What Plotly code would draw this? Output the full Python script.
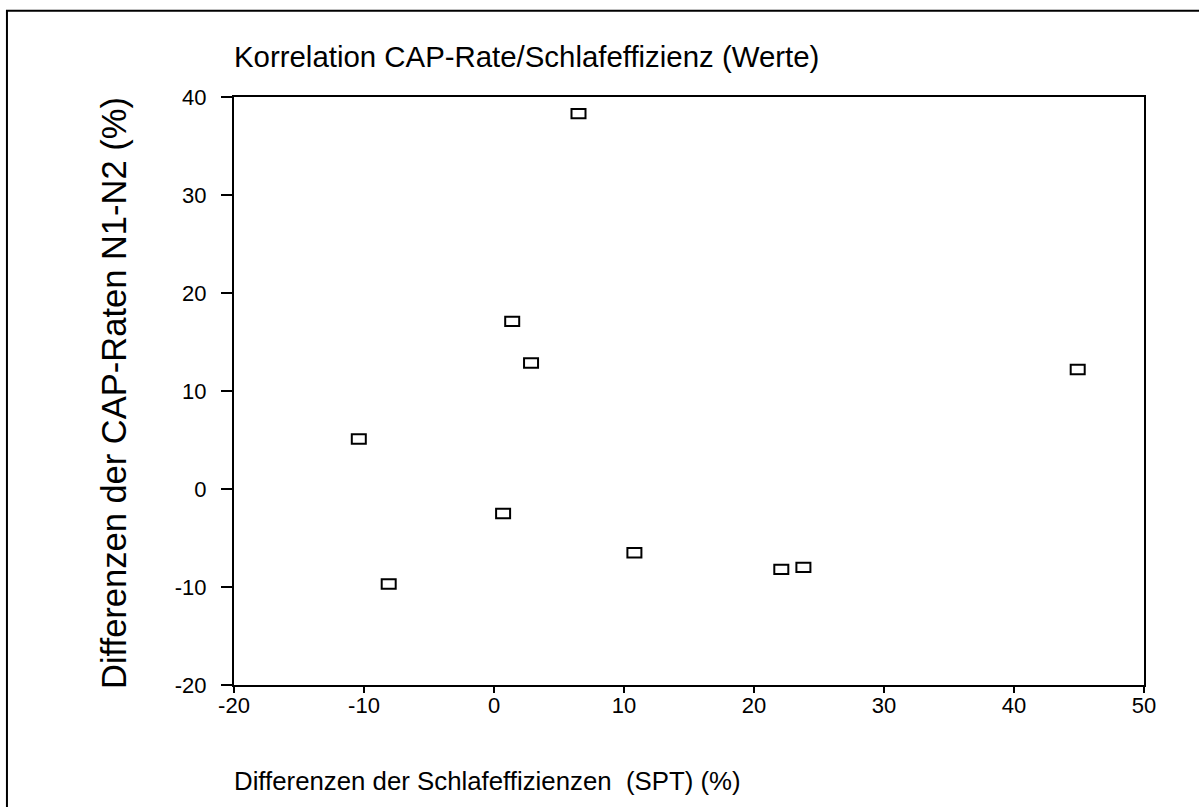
import plotly.graph_objects as go

# Data
diff_sleep_eff = [6.5, 1.4, 2.85, 44.9, -10.4, 0.7, 10.8, -8.1, 22.1, 23.8]
diff_cap_rate = [38.3, 17.1, 12.85, 12.2, 5.1, -2.5, -6.5, -9.7, -8.2, -8.0]

x_ticks = [-20, -10, 0, 10, 20, 30, 40, 50]
y_ticks = [-20, -10, 0, 10, 20, 30, 40]

title_text = "Korrelation CAP-Rate/Schlafeffizienz (Werte)"
x_title = "Differenzen der Schlafeffizienzen \u00a0(SPT) (%)"
y_title = "Differenzen der CAP-Raten N1-N2 (%)"

FONT = "Liberation Sans, Arial, sans-serif"

fig = go.Figure()
fig.add_trace(go.Scatter(
    x=diff_sleep_eff, y=diff_cap_rate, mode="markers",
    marker=dict(size=12, color="rgba(0,0,0,0)"),
    showlegend=False, hoverinfo="x+y",
))

shapes = []
# open rectangular markers anchored at the data values
for xv, yv in zip(diff_sleep_eff, diff_cap_rate):
    shapes.append(dict(
        type="rect", xref="x", yref="y",
        xsizemode="pixel", ysizemode="pixel",
        xanchor=xv, yanchor=yv,
        x0=-7, x1=7, y0=-4.7, y1=4.7,
        line=dict(color="black", width=2), fillcolor="white", layer="above",
    ))
# outer frame
shapes.append(dict(
    type="rect", xref="paper", yref="paper",
    x0=-0.2495, x1=1.2, y0=-0.5, y1=1.1465,
    line=dict(color="black", width=2), fillcolor="rgba(0,0,0,0)", layer="below",
))

fig.update_layout(
    width=1199, height=807,
    margin=dict(l=234, r=55, t=97, b=122),
    paper_bgcolor="white", plot_bgcolor="white",
    font=dict(family=FONT, color="black", size=22),
    shapes=shapes,
    showlegend=False,
    annotations=[
        dict(text=title_text, xref="paper", yref="paper", x=-0.002, y=1.0697,
             xanchor="left", yanchor="middle", showarrow=False,
             font=dict(family=FONT, size=29.4, color="black")),
        dict(text=x_title, xref="paper", yref="paper", x=-0.002, y=-0.1633,
             xanchor="left", yanchor="middle", showarrow=False,
             font=dict(family=FONT, size=25.8, color="black")),
        dict(text=y_title, xref="paper", yref="paper", x=-0.1319, y=0.4966,
             xanchor="center", yanchor="middle", textangle=-90, showarrow=False,
             font=dict(family=FONT, size=34.5, color="black")),
    ],
)

fig.update_xaxes(
    range=[-20, 50], tickvals=x_ticks, ticktext=[str(v) for v in x_ticks],
    showgrid=False, zeroline=False,
    showline=True, linecolor="black", linewidth=2, mirror=True,
    ticks="outside", ticklen=6, tickwidth=1.5, tickcolor="black",
    ticklabelstandoff=-6,
    tickfont=dict(family=FONT, size=22, color="black"),
)
fig.update_yaxes(
    range=[-20, 40], tickvals=y_ticks, ticktext=[str(v) for v in y_ticks],
    showgrid=False, zeroline=False,
    showline=True, linecolor="black", linewidth=2, mirror=True,
    ticks="outside", ticklen=11, tickwidth=1.5, tickcolor="black",
    ticklabelstandoff=10,
    tickfont=dict(family=FONT, size=22, color="black"),
)

fig.write_html("out.html")
